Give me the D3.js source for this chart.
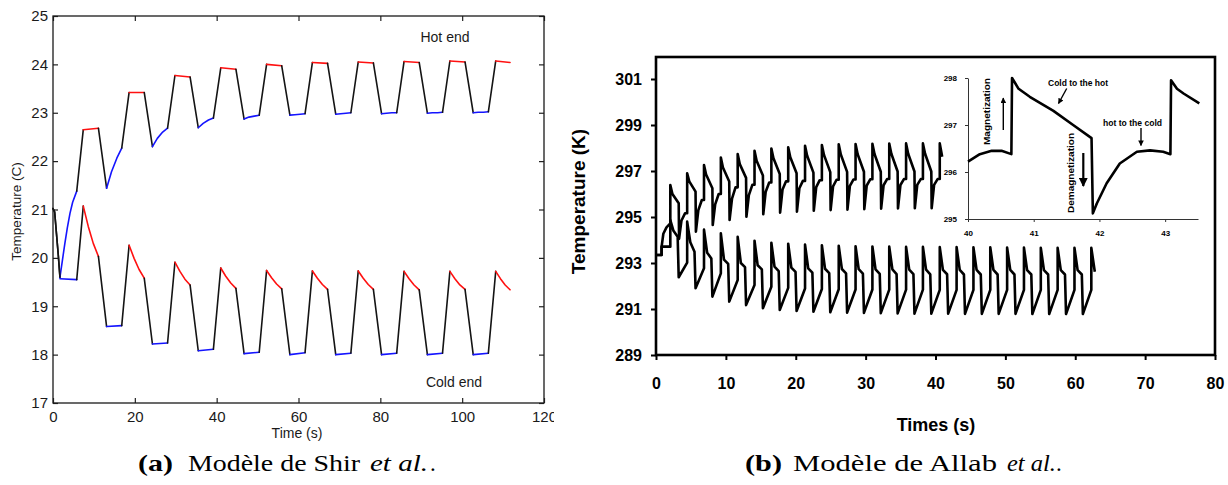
<!DOCTYPE html>
<html><head><meta charset="utf-8">
<script src="https://cdn.jsdelivr.net/npm/d3@7"></script>
<style>body{margin:0;background:#fff}svg{display:block}</style>
</head><body>
<svg id="c" width="1228" height="485"></svg>
<script>
// ================= Panel (a) : Shir et al. =================
const shirXTicks = [0, 20, 40, 60, 80, 100, 120];
const shirYTicks = [17, 18, 19, 20, 21, 22, 23, 24, 25];
const shirCycleStart = [7.4, 18.6, 29.8, 41.0, 52.2, 63.4, 74.6, 85.8, 97.0, 108.2];
const shirEndTime = 111.7;
const shirPhase = [3.7, 5.7, 6.9, 8.2, 9.4]; // red end, drop end, blue mid1, blue mid2, blue end (s after cycle start)
const shirStartTime = [0, 0.4, 1.3, 1.7];
const shirStartTemp = [21.02, 20.95, 20.05, 19.60];
const shirHotInitTime = [1.7, 2.3, 2.9, 3.5, 4.15, 4.8, 5.8];
const shirHotInitTemp = [19.60, 19.95, 20.30, 20.62, 20.92, 21.15, 21.38];
const shirColdInitTime = [1.7, 5.8];
const shirColdInitTemp = [19.57, 19.55];
// hot end
const hotPlateauStart = [22.65, 23.42, 23.77, 23.93, 24.00, 24.04, 24.05, 24.06, 24.07, 24.07];
const hotPlateauEnd   = [22.68, 23.42, 23.74, 23.90, 23.97, 24.02, 24.03, 24.04, 24.05, 24.04];
const hotMin          = [21.44, 22.30, 22.69, 22.87, 22.95, 22.97, 22.98, 22.99, 23.00];
const hotBlueMid1     = [21.78, 22.47, 22.78, 22.91, 22.96, 22.98, 22.99, 23.00, 23.01];
const hotBlueMid2     = [22.06, 22.60, 22.85, 22.93, 22.97, 22.99, 23.00, 23.00, 23.01];
const hotBlueEnd      = [22.27, 22.68, 22.89, 22.95, 22.98, 23.00, 23.00, 23.01, 23.02];
// cold end
const coldPeakA   = [21.07, 20.26, 19.91, 19.79, 19.74, 19.73, 19.73, 19.72, 19.72, 19.72];
const coldRedMid1 = [20.65, 19.99, 19.72, 19.62, 19.59, 19.58, 19.58, 19.57, 19.57, 19.57];
const coldRedMid2 = [20.30, 19.76, 19.56, 19.48, 19.46, 19.45, 19.45, 19.44, 19.44, 19.44];
const coldRedEnd  = [20.03, 19.58, 19.44, 19.37, 19.36, 19.35, 19.35, 19.34, 19.35, 19.34];
const coldMinA    = [18.58, 18.22, 18.08, 18.02, 18.00, 18.00, 18.00, 18.00, 18.00];
const coldBlueEnd = [18.60, 18.24, 18.11, 18.05, 18.04, 18.03, 18.03, 18.03, 18.03];

// ================= Panel (b) : Allab et al. =================
const allabXTicks = [0, 10, 20, 30, 40, 50, 60, 70, 80];
const allabYTicks = [289, 291, 293, 295, 297, 299, 301];
const allabPeakTime = [2.05, 4.46, 6.87, 9.28, 11.69, 14.10, 16.51, 18.92, 21.33, 23.74, 26.15, 28.56, 30.97,
  33.38, 35.79, 38.20, 40.61, 43.02, 45.43, 47.84, 50.25, 52.66, 55.07, 57.48, 59.89, 62.30];
const hotPhase = [0.3, 1.2, 1.25, 1.6, 2.1];   // decay, before drop, min, knee, flat
const coldPhase = [0.45, 1.05, 1.2];           // decay, kink, min
// hot (upper) curve
const hotInitTime = [0, 0.8, 0.8, 1.05, 1.5, 2.05];
const hotInitTemp = [293.35, 293.35, 293.70, 294.27, 294.55, 294.72];
const hotP = [296.39, 296.90, 297.26, 297.59, 297.74, 297.88, 297.98, 298.03, 298.10, 298.13, 298.16, 298.17, 298.18, 298.19, 298.20, 298.20, 298.20];
const hotD = [296.00, 296.55, 296.85, 297.15, 297.30, 297.45, 297.55, 297.60, 297.66, 297.70, 297.72, 297.73, 297.74, 297.75, 297.75, 297.76, 297.70];
const hotK = [295.60, 296.10, 296.25, 296.54, 296.70, 296.80, 296.87, 296.90, 296.93, 296.95, 296.96, 296.97, 296.97, 296.98, 296.98, 296.98];
const hotM = [294.05, 294.36, 294.65, 294.87, 295.01, 295.12, 295.19, 295.23, 295.27, 295.30, 295.32, 295.34, 295.36, 295.37, 295.38, 295.38];
const hotQ = [294.85, 295.30, 295.55, 295.80, 295.95, 296.10, 296.20, 296.25, 296.30, 296.33, 296.35, 296.37, 296.38, 296.39, 296.40, 296.40];
const hotF = [295.16, 295.74, 296.00, 296.29, 296.40, 296.50, 296.55, 296.57, 296.60, 296.62, 296.63, 296.64, 296.65, 296.65, 296.65, 296.65];
const hotLast = [40.95, 297.62];
// cold (lower) curve
const coldInitTime = [0, 0.8, 0.8, 2.05];
const coldInitTemp = [293.35, 293.35, 293.71, 293.71];
const coldP = [294.87, 294.80, 294.45, 294.29, 294.14, 293.97, 293.88, 293.84, 293.80, 293.77, 293.75, 293.73, 293.72, 293.71, 293.70, 293.70, 293.69, 293.69, 293.68, 293.68, 293.67, 293.67, 293.66, 293.66, 293.66, 293.66];
const coldD = [294.40, 293.90, 293.45, 293.15, 293.00, 292.90, 292.84, 292.80, 292.77, 292.75, 292.74, 292.73, 292.72, 292.72, 292.71, 292.71, 292.70, 292.70, 292.70, 292.70, 292.70, 292.69, 292.69, 292.69, 292.69, 292.72];
const coldK = [294.14, 293.49, 293.20, 292.96, 292.82, 292.72, 292.65, 292.61, 292.58, 292.56, 292.55, 292.54, 292.53, 292.52, 292.52, 292.51, 292.51, 292.50, 292.50, 292.50, 292.50, 292.50, 292.50, 292.50, 292.50];
const coldM = [292.38, 291.90, 291.54, 291.32, 291.17, 291.03, 290.96, 290.91, 290.88, 290.86, 290.84, 290.83, 290.82, 290.81, 290.80, 290.80, 290.80, 290.79, 290.79, 290.79, 290.79, 290.78, 290.78, 290.78, 290.78];
const coldR = [293.02, 292.77, 292.55, 292.26, 292.04, 291.97, 291.92, 291.89, 291.87, 291.86, 291.85, 291.85, 291.84, 291.84, 291.84, 291.83, 291.83, 291.83, 291.83, 291.83, 291.83, 291.83, 291.83, 291.83, 291.83];
const coldLast = [62.8, 292.62];
// inset (one cycle, hot end)
const insetXTicks = [40, 41, 42, 43];
const insetYTicks = [295, 296, 297, 298];
const insetTime = [40.0, 40.18, 40.36, 40.51, 40.66, 40.67, 40.77, 40.94, 41.3, 41.6, 41.88, 41.9, 41.96, 42.11, 42.31, 42.57, 42.77, 42.97, 43.08, 43.09, 43.18, 43.28, 43.52];
const insetTemp = [296.22, 296.38, 296.45, 296.45, 296.38, 298.0, 297.77, 297.6, 297.3, 297.0, 296.72, 295.12, 295.33, 295.76, 296.18, 296.43, 296.46, 296.43, 296.38, 297.95, 297.77, 297.67, 297.46];

// ================= drawing =================
const svg = d3.select('#c');
const SANS = "'Liberation Sans', Arial, Helvetica, sans-serif";
const SERIF = "'Liberation Serif', 'Times New Roman', serif";
const zip = (a, b) => a.map((v, i) => [v, b[i]]);

const defs = svg.append('defs');
defs.append('clipPath').attr('id', 'clipA').append('rect').attr('x', 0).attr('y', 0).attr('width', 554).attr('height', 450);
defs.append('marker').attr('id', 'arr').attr('viewBox', '0 0 10 10').attr('refX', 9).attr('refY', 5)
  .attr('markerWidth', 4).attr('markerHeight', 4).attr('orient', 'auto-start-reverse')
  .append('path').attr('d', 'M0,0 L10,5 L0,10 z').attr('fill', '#000');

// ---- Panel A ----
const xA = d3.scaleLinear().domain([0, 120]).range([53, 544]);
const yA = d3.scaleLinear().domain([17, 25]).range([403, 16]);
const gA = svg.append('g').attr('clip-path', 'url(#clipA)');
const lineA = d3.line().x(d => xA(d[0])).y(d => yA(d[1]));
const COL = { k: '#141414', r: '#ff1010', b: '#1414ff' };

function shirSegments(hot) {
  const segs = [];
  segs.push({ c: 'k', p: zip(shirStartTime, shirStartTemp) });
  const n = shirCycleStart.length;
  if (hot) {
    segs.push({ c: 'b', p: zip(shirHotInitTime, shirHotInitTemp) });
    segs.push({ c: 'k', p: [[shirHotInitTime[6], shirHotInitTemp[6]], [shirCycleStart[0], hotPlateauStart[0]]] });
  } else {
    segs.push({ c: 'b', p: zip(shirColdInitTime, shirColdInitTemp) });
    segs.push({ c: 'k', p: [[shirColdInitTime[1], shirColdInitTemp[1]], [shirCycleStart[0], coldPeakA[0]]] });
  }
  for (let k = 0; k < n; k++) {
    const t0 = shirCycleStart[k];
    const last = k === n - 1;
    const tr = last ? shirEndTime : t0 + shirPhase[0];
    if (hot) {
      segs.push({ c: 'r', p: [[t0, hotPlateauStart[k]], [tr, hotPlateauEnd[k]]] });
      if (last) break;
      segs.push({ c: 'k', p: [[tr, hotPlateauEnd[k]], [t0 + shirPhase[1], hotMin[k]]] });
      segs.push({ c: 'b', p: [[t0 + shirPhase[1], hotMin[k]], [t0 + shirPhase[2], hotBlueMid1[k]], [t0 + shirPhase[3], hotBlueMid2[k]], [t0 + shirPhase[4], hotBlueEnd[k]]] });
      segs.push({ c: 'k', p: [[t0 + shirPhase[4], hotBlueEnd[k]], [shirCycleStart[k + 1], hotPlateauStart[k + 1]]] });
    } else {
      const tm1 = t0 + (tr - t0) * 0.33, tm2 = t0 + (tr - t0) * 0.66;
      segs.push({ c: 'r', p: [[t0, coldPeakA[k]], [tm1, coldRedMid1[k]], [tm2, coldRedMid2[k]], [tr, coldRedEnd[k]]] });
      if (last) break;
      segs.push({ c: 'k', p: [[tr, coldRedEnd[k]], [t0 + shirPhase[1], coldMinA[k]]] });
      segs.push({ c: 'b', p: [[t0 + shirPhase[1], coldMinA[k]], [t0 + shirPhase[4], coldBlueEnd[k]]] });
      segs.push({ c: 'k', p: [[t0 + shirPhase[4], coldBlueEnd[k]], [shirCycleStart[k + 1], coldPeakA[k + 1]]] });
    }
  }
  return segs;
}
function styleAxisText(g, size, weight, fill) {
  g.attr('font-family', SANS).attr('font-size', size).attr('font-weight', weight);
  g.selectAll('text').attr('fill', fill);
}
// axes A
const axA = gA.append('g');
axA.append('g').attr('transform', `translate(0,${yA(17)})`)
  .call(d3.axisBottom(xA).tickValues(shirXTicks).tickSize(-5).tickSizeOuter(0).tickPadding(8))
  .call(g => styleAxisText(g, 15, 'normal', '#1a1a1a'));
axA.append('g').attr('transform', `translate(${xA(0)},0)`)
  .call(d3.axisLeft(yA).tickValues(shirYTicks).tickSize(-5).tickSizeOuter(0).tickPadding(5))
  .call(g => styleAxisText(g, 15, 'normal', '#1a1a1a'));
axA.append('g').attr('transform', `translate(0,${yA(25)})`)
  .call(d3.axisTop(xA).tickValues(shirXTicks).tickSize(-5).tickSizeOuter(0).tickFormat(''));
axA.append('g').attr('transform', `translate(${xA(120)},0)`)
  .call(d3.axisRight(yA).tickValues(shirYTicks).tickSize(-5).tickSizeOuter(0).tickFormat(''));
axA.selectAll('.domain').remove();
axA.selectAll('.tick line').attr('stroke', '#222').attr('stroke-width', 1.2);
gA.append('rect').attr('x', xA(0)).attr('y', yA(25)).attr('width', xA(120) - xA(0)).attr('height', yA(17) - yA(25))
  .attr('fill', 'none').attr('stroke', '#1a1a1a').attr('stroke-width', 1.3);

[true, false].forEach(hot => {
  shirSegments(hot).forEach(s => {
    gA.append('path').attr('d', lineA(s.p)).attr('fill', 'none').attr('stroke', COL[s.c])
      .attr('stroke-width', 1.6).attr('stroke-linejoin', 'round').attr('stroke-linecap', 'round');
  });
});
gA.append('text').attr('transform', 'translate(21,211.5) rotate(-90)').attr('text-anchor', 'middle')
  .attr('font-family', SANS).attr('font-size', 13.5).attr('fill', '#1a1a1a').text('Temperature (C)');
gA.append('text').attr('x', 297).attr('y', 438).attr('text-anchor', 'middle')
  .attr('font-family', SANS).attr('font-size', 14).attr('fill', '#1a1a1a').text('Time (s)');
gA.append('text').attr('x', 445).attr('y', 42).attr('text-anchor', 'middle')
  .attr('font-family', SANS).attr('font-size', 14).attr('fill', '#1a1a1a').text('Hot end');
gA.append('text').attr('x', 454).attr('y', 387).attr('text-anchor', 'middle')
  .attr('font-family', SANS).attr('font-size', 14).attr('fill', '#1a1a1a').text('Cold end');

// ---- Panel B ----
const xB = d3.scaleLinear().domain([0, 80]).range([656, 1215]);
const yB = d3.scaleLinear().domain([289, 302]).range([355, 56]);
const gB = svg.append('g');
const lineB = d3.line().x(d => xB(d[0])).y(d => yB(d[1]));

const axB = gB.append('g');
axB.append('g').attr('transform', `translate(0,${yB(289)})`)
  .call(d3.axisBottom(xB).tickValues(allabXTicks).tickSize(5).tickSizeOuter(0).tickPadding(18))
  .call(g => styleAxisText(g, 16, 'bold', '#000'));
axB.append('g').attr('transform', `translate(${xB(0)},0)`)
  .call(d3.axisLeft(yB).tickValues(allabYTicks).tickSize(5).tickSizeOuter(0).tickPadding(9))
  .call(g => styleAxisText(g, 16, 'bold', '#000'));
axB.selectAll('.domain').remove();
axB.selectAll('.tick line').attr('stroke', '#000').attr('stroke-width', 2);

// hot curve points
const hotPts = zip(hotInitTime, hotInitTemp);
for (let k = 0; k < hotP.length; k++) {
  const t = allabPeakTime[k];
  hotPts.push([t, hotP[k]], [t + hotPhase[0], hotD[k]]);
  if (k < hotK.length) {
    hotPts.push([t + hotPhase[1], hotK[k]], [t + hotPhase[2], hotM[k]], [t + hotPhase[3], hotQ[k]],
      [t + hotPhase[4], hotF[k]], [allabPeakTime[k + 1], hotF[k]]);
  } else hotPts.push(hotLast);
}
const coldPts = zip(coldInitTime, coldInitTemp);
for (let k = 0; k < coldP.length; k++) {
  const t = allabPeakTime[k];
  coldPts.push([t, coldP[k]], [t + coldPhase[0], coldD[k]]);
  if (k < coldK.length) {
    coldPts.push([t + coldPhase[1], coldK[k]], [t + coldPhase[2], coldM[k]], [allabPeakTime[k + 1], coldR[k]]);
  } else coldPts.push(coldLast);
}
[hotPts, coldPts].forEach(p => gB.append('path').attr('d', lineB(p)).attr('fill', 'none')
  .attr('stroke', '#000').attr('stroke-width', 2.6).attr('stroke-linejoin', 'round'));

gB.append('rect').attr('x', xB(0)).attr('y', 57).attr('width', xB(80) - xB(0)).attr('height', yB(289) - 57)
  .attr('fill', 'none').attr('stroke', '#000').attr('stroke-width', 2.6);

gB.append('text').attr('transform', 'translate(585,201.5) rotate(-90)').attr('text-anchor', 'middle')
  .attr('font-family', SANS).attr('font-weight', 'bold').attr('font-size', 19).attr('fill', '#000').text('Temperature (K)');
gB.append('text').attr('x', 936).attr('y', 431).attr('text-anchor', 'middle')
  .attr('font-family', SANS).attr('font-weight', 'bold').attr('font-size', 18).attr('fill', '#000').text('Times (s)');

// inset
const xI = d3.scaleLinear().domain([40, 43.5]).range([968, 1198]);
const yI = d3.scaleLinear().domain([295, 298]).range([219, 78]);
const gI = gB.append('g');
gI.append('g').attr('transform', `translate(0,${yI(295)})`)
  .call(d3.axisBottom(xI).tickValues(insetXTicks).tickFormat(d3.format('d')).tickSize(3).tickSizeOuter(0).tickPadding(8))
  .call(g => styleAxisText(g, 8, 'bold', '#000'));
gI.append('g').attr('transform', `translate(${xI(40)},0)`)
  .call(d3.axisLeft(yI).tickValues(insetYTicks).tickFormat(d3.format('d')).tickSize(3).tickSizeOuter(0).tickPadding(8))
  .call(g => styleAxisText(g, 8, 'bold', '#000'));
gI.selectAll('.domain').attr('stroke', '#333').attr('stroke-width', 1);
gI.selectAll('.tick line').attr('stroke', '#333');
gI.append('path').attr('d', d3.line().x(d => xI(d[0])).y(d => yI(d[1]))(zip(insetTime, insetTemp)))
  .attr('fill', 'none').attr('stroke', '#000').attr('stroke-width', 2.6).attr('stroke-linejoin', 'round');

const ann = (x, y, txt, rot, len, size) => {
  const t = gI.append('text').attr('text-anchor', 'middle').attr('font-family', SANS).attr('font-weight', 'bold')
    .attr('font-size', size).attr('fill', '#000').text(txt)
    .attr('transform', `translate(${x},${y})` + (rot ? ' rotate(-90)' : ''));
  if (len) t.attr('textLength', len).attr('lengthAdjust', 'spacingAndGlyphs');
};
ann(990, 111.5, 'Magnetization', true, 67, 9.5);
ann(1074, 173, 'Demagnetization', true, 80, 9.5);
ann(1078, 86, 'Cold to the hot', false, 60, 8.5);
ann(1132.5, 126, 'hot to the cold', false, 59, 8.5);
const arrow = (x1, y1, x2, y2, w) => gI.append('line').attr('x1', x1).attr('y1', y1).attr('x2', x2).attr('y2', y2)
  .attr('stroke', '#000').attr('stroke-width', w).attr('marker-end', 'url(#arr)');
arrow(1003.3, 130, 1003.3, 98, 1.4);
arrow(1066.7, 88.5, 1058.5, 103.5, 1.4);
arrow(1083.3, 153, 1083.3, 186, 2.2);
arrow(1141, 128, 1141, 145.5, 1.4);

// captions
function caption(y, parts) {
  const t = svg.append('text').attr('y', y).attr('font-family', SERIF).attr('font-size', 23).attr('fill', '#000');
  parts.forEach(p => {
    const s = t.append('tspan').attr('x', p.x).text(p.txt);
    if (p.w) s.attr('textLength', p.w).attr('lengthAdjust', 'spacingAndGlyphs');
    if (p.b) s.attr('font-weight', 'bold');
    if (p.i) s.attr('font-style', 'italic');
  });
}
caption(471, [{ x: 138, txt: '(a)', w: 35, b: true }, { x: 188, txt: 'Modèle de Shir', w: 172 },
  { x: 370, txt: 'et al.', w: 58, i: true }, { x: 430, txt: '.' }]);
caption(471, [{ x: 745, txt: '(b)', w: 37, b: true }, { x: 793, txt: 'Modèle de Allab', w: 204 },
  { x: 1007, txt: 'et al.', w: 49, i: true }, { x: 1056, txt: '.' }]);
</script>
</body></html>
